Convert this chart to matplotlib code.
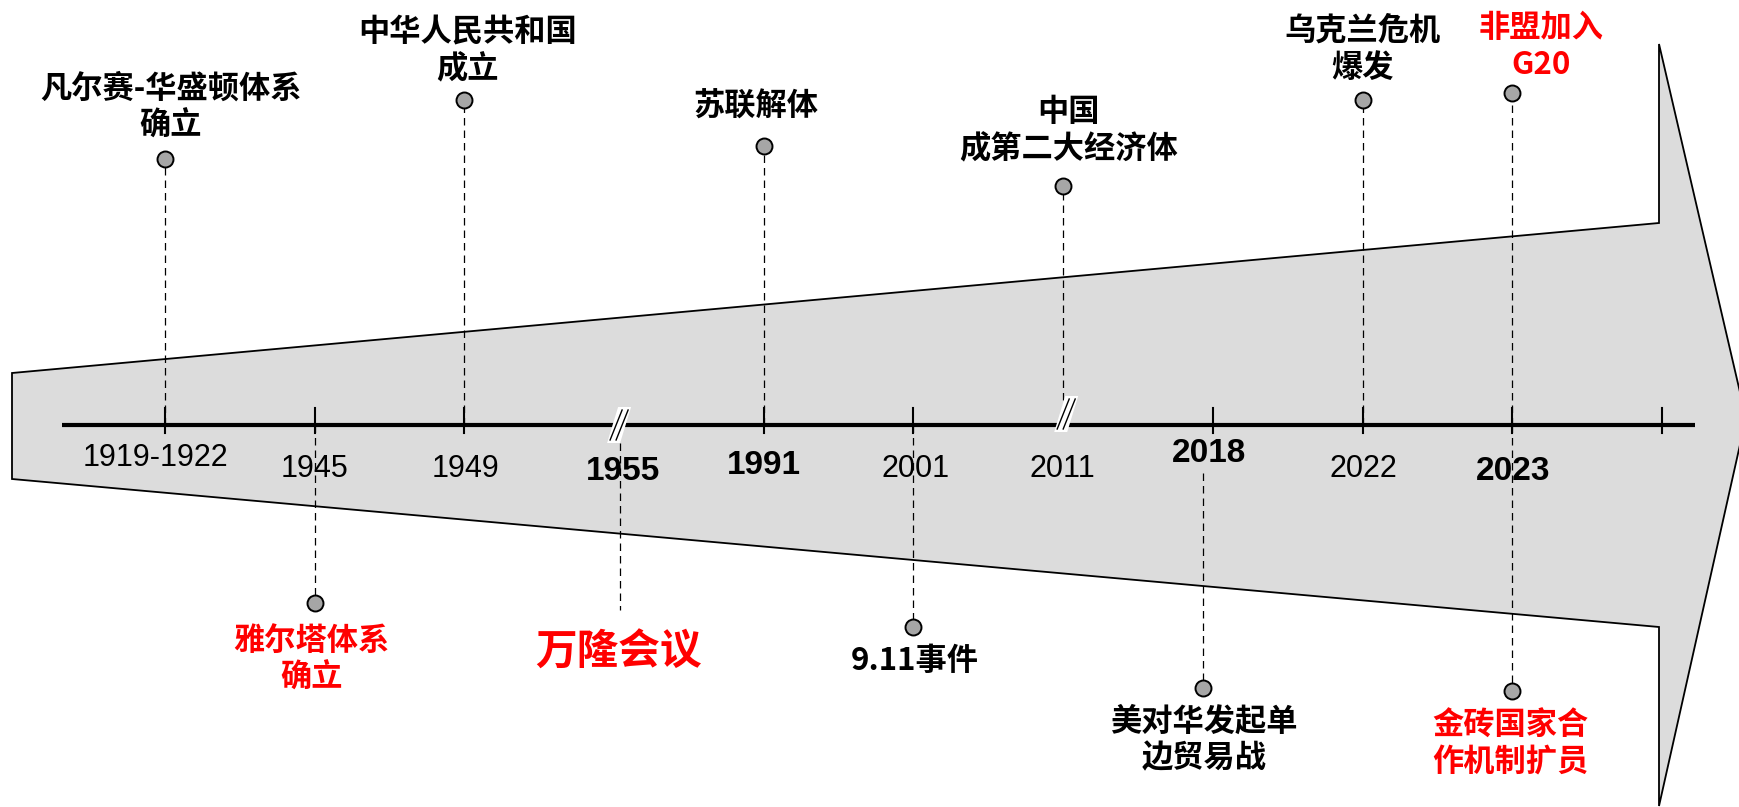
import matplotlib
matplotlib.use('Agg')
import matplotlib.pyplot as plt
from matplotlib.patches import Polygon

# ---- data ----
year_labels = ['1919-1922', '1945', '1949', '1955', '1991', '2001',
               '2011', '2018', '2022', '2023', '']
year_bold = [False, False, False, True, True, False, False, True, False, True, False]
break_slots = [3, 6]

event_slots = [0, 2, 4, 6, 8, 9, 1, 3, 5, 7, 9]
event_texts = ['凡尔赛-华盛顿体系\n确立', '中华人民共和国\n成立', '苏联解体',
               '中国\n成第二大经济体', '乌克兰危机\n爆发', '非盟加入\nG20',
               '雅尔塔体系\n确立', '万隆会议', '9.11事件',
               '美对华发起单\n边贸易战', '金砖国家合\n作机制扩员']
event_red = [False, False, False, False, False, True, True, True, False, False, True]

# ---- layout (pixel units) ----
W, H = 1740, 807
AXIS_Y = 425
X0, STEP = 165, 149.7
dot_y = [159, 100, 146, 186, 100, 93, 603, None, 627, 688, 691]
dash_from = [AXIS_Y, AXIS_Y, AXIS_Y, AXIS_Y, AXIS_Y, AXIS_Y, AXIS_Y, 443, AXIS_Y, 473, AXIS_Y]
dash_to = [159, 100, 146, 186, 100, 93, 603, 610, 627, 688, 691]
dot_dx = [0, 0, 0, 0, 0, 0, 0, 6, 0, -10, 0]
text_y = [107, 51, 107, 131, 49, 47, 659, 653, 661, 740, 744]
text_dx = [6, 3, -8, 5, 0, 29, -3, 4, 1, -9, -2]
text_size = [22.5] * 11
text_size[7] = 30
year_y = [458, 469, 469, 471, 466, 469, 469, 453, 469, 471, 469]
year_dx = [-10, 0, 1, 9, 0, 2, -1, -4, 1, 1, 0]

RED = '#ff0000'
CJK = ['Noto Sans CJK SC', 'DejaVu Sans']


def sx(slot):
    return X0 + STEP * slot


fig = plt.figure(figsize=(W / 100, H / 100), dpi=100)
ax = fig.add_axes([0, 0, 1, 1])
ax.set_xlim(0, W)
ax.set_ylim(H, 0)
ax.axis('off')

# big arrow background
arrow = Polygon([(12, 373), (1659, 223), (1659, 44), (1746, 418),
                 (1659, 806), (1659, 627), (12, 479)], closed=True,
                facecolor='#dcdcdc', edgecolor='black', linewidth=1.3, zorder=1)
ax.add_patch(arrow)

# dashed connectors
for i, s in enumerate(event_slots):
    x = sx(s) + dot_dx[i]
    ax.plot([x, x], [dash_from[i], dash_to[i]], color='black', lw=0.9,
            dashes=(6, 4), zorder=2)

# timeline and ticks
ax.plot([62, 1695], [AXIS_Y, AXIS_Y], color='black', lw=3, solid_capstyle='butt', zorder=3)
for i in range(len(year_labels)):
    if i in break_slots:
        continue
    ax.plot([sx(i), sx(i)], [408, 433], color='black', lw=1.5, zorder=3)

# break marks
for i, s in enumerate(break_slots):
    cx = sx(s) + (5 if i == 0 else 3)
    cy = AXIS_Y if i == 0 else 414
    top, bot = cy - 18, cy + 18
    ax.add_patch(Polygon([(cx - 1, top), (cx + 12, top), (cx + 1, bot), (cx - 12, bot)],
                         closed=True, facecolor='white', edgecolor='none', zorder=4))
    for off in (-3, 3):
        ax.plot([cx + 6 + off, cx - 6 + off], [top + 3, bot - 3], color='black',
                lw=1.0, zorder=4)

# year labels
for i, lab in enumerate(year_labels):
    if not lab:
        continue
    if year_bold[i]:
        ax.text(sx(i) + year_dx[i], year_y[i], lab, ha='center', va='center',
                fontsize=24, fontweight='bold', family='Liberation Sans', zorder=6)
    else:
        ax.text(sx(i) + year_dx[i], year_y[i], lab, ha='center', va='center',
                fontsize=22, family='Liberation Sans', zorder=6)

# dots
for i, s in enumerate(event_slots):
    if dot_y[i] is None:
        continue
    ax.plot(sx(s) + dot_dx[i], dot_y[i], 'o', ms=11.5, mfc='#a6a6a6', mec='black',
            mew=1.4, zorder=5)

# event texts
for i, s in enumerate(event_slots):
    ax.text(sx(s) + text_dx[i], text_y[i], event_texts[i], ha='center', va='center',
            multialignment='center', fontsize=text_size[i], fontweight='heavy',
            family=CJK, color=RED if event_red[i] else 'black', linespacing=1.2,
            zorder=6)

fig.savefig('out.png', dpi=100, facecolor='white')
